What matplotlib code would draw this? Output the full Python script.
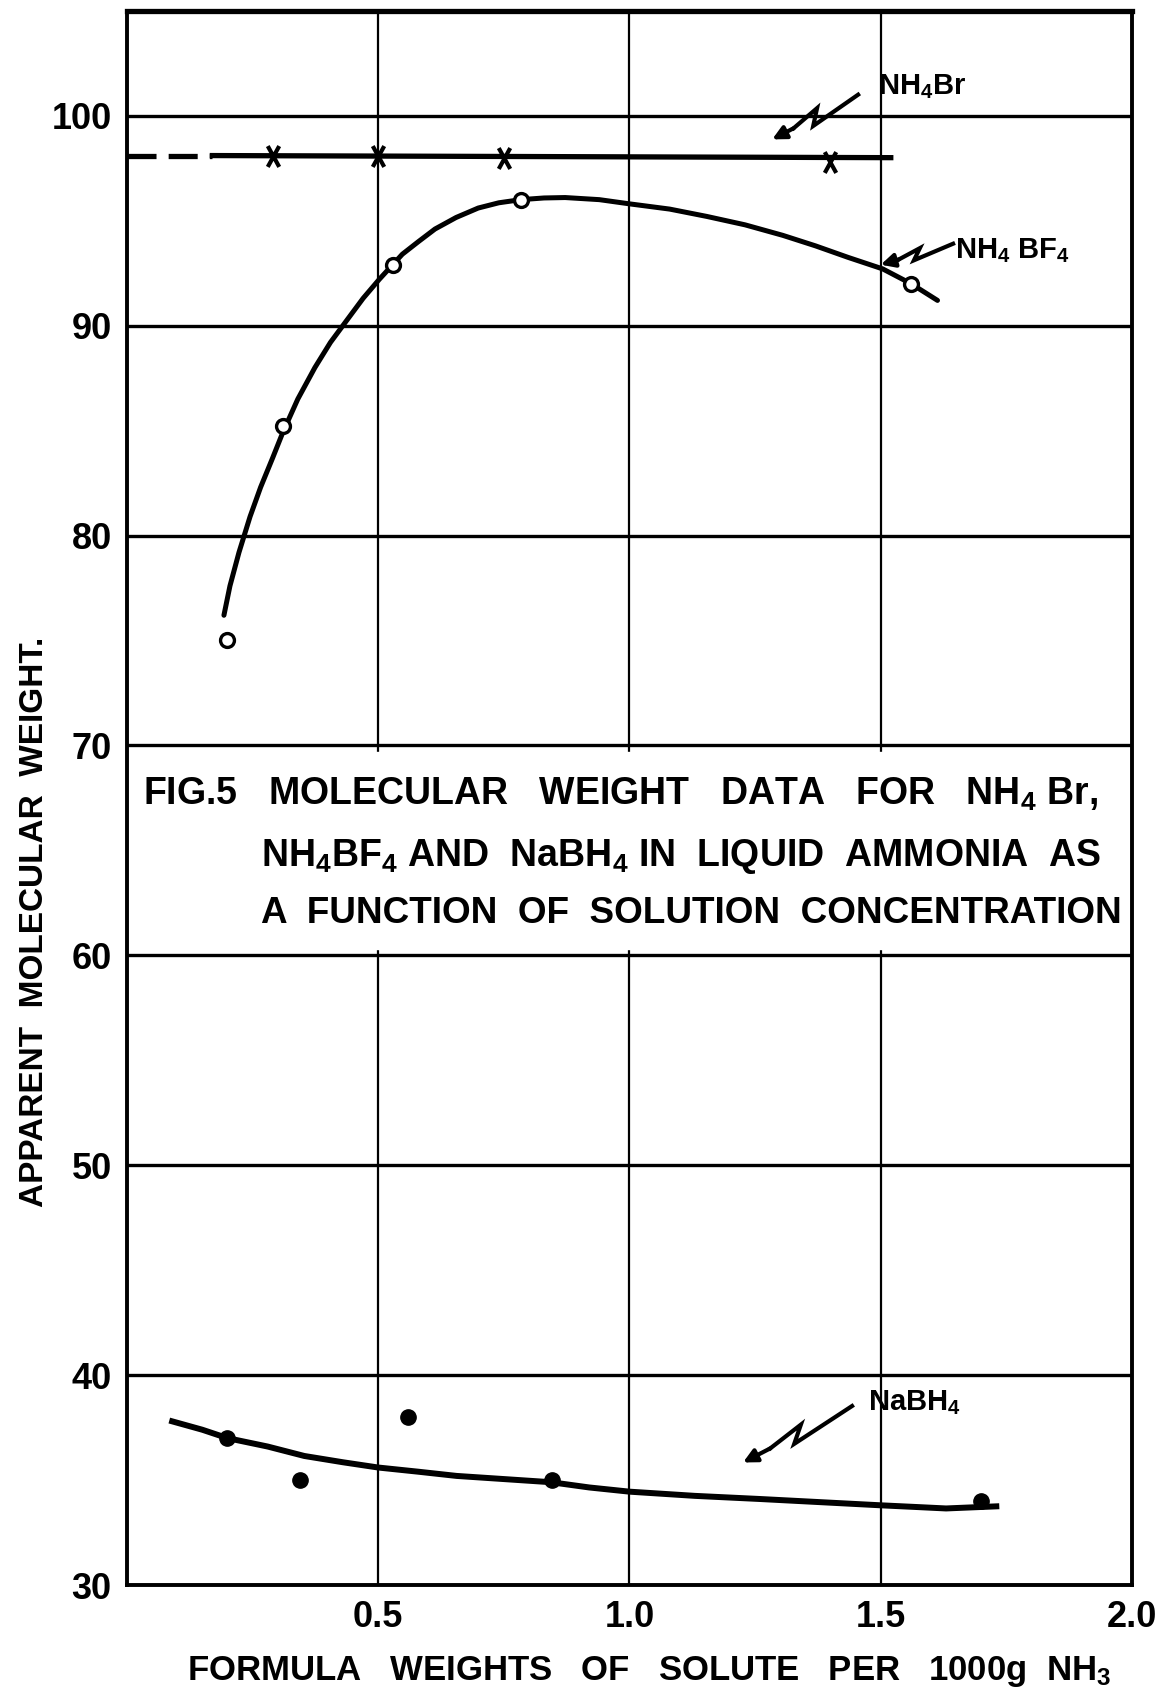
import numpy as np
import matplotlib
matplotlib.use("Agg")
import matplotlib.pyplot as plt
from matplotlib.path import Path

plt.rcParams['font.family'] = ['Liberation Sans', 'DejaVu Sans']
plt.rcParams['font.weight'] = 'bold'
plt.rcParams['axes.labelweight'] = 'bold'
plt.rcParams['mathtext.fontset'] = 'custom'
plt.rcParams['mathtext.rm'] = 'Liberation Sans:bold'
plt.rcParams['mathtext.default'] = 'regular'

# NH4Br (crosses) and its flat line
br_x = [0.29, 0.50, 0.75, 1.40]
br_y = [98.1, 98.1, 98.0, 97.8]
br_dash_x = [0.0, 0.17]
br_dash_y = [98.1, 98.1]
br_line_x = [0.17, 1.52]
br_line_y = [98.1, 98.0]

# NH4BF4 (open circles) and the hand-drawn curve
bf_x = [0.20, 0.31, 0.53, 0.785, 1.56]
bf_y = [75.0, 85.2, 92.9, 96.0, 92.0]
bf_curve_x = [0.193, 0.205, 0.223, 0.245, 0.266, 0.29, 0.31, 0.34, 0.374, 0.405,
              0.439, 0.47, 0.502, 0.548, 0.58, 0.613, 0.655, 0.699, 0.74, 0.784,
              0.83, 0.872, 0.94, 1.0, 1.08, 1.154, 1.23, 1.305, 1.37, 1.435,
              1.504, 1.56, 1.613]
bf_curve_y = [76.2, 77.6, 79.2, 80.9, 82.3, 83.7, 84.9, 86.5, 88.0, 89.2,
              90.3, 91.3, 92.2, 93.4, 94.0, 94.6, 95.15, 95.6, 95.85, 96.0,
              96.08, 96.1, 96.0, 95.8, 95.55, 95.2, 94.8, 94.3, 93.8, 93.25,
              92.7, 92.0, 91.2]

# NaBH4 (filled dots) and its curve
na_x = [0.20, 0.345, 0.56, 0.845, 1.70]
na_y = [37.0, 35.0, 38.0, 35.0, 34.0]
na_curve_x = [0.09, 0.15, 0.20, 0.28, 0.353, 0.43, 0.50, 0.58, 0.656, 0.75,
              0.844, 0.92, 1.0, 1.13, 1.26, 1.38, 1.50, 1.57, 1.63, 1.68, 1.73]
na_curve_y = [37.8, 37.4, 37.0, 36.6, 36.15, 35.85, 35.6, 35.4, 35.2, 35.05,
              34.9, 34.65, 34.45, 34.25, 34.1, 33.95, 33.8, 33.72, 33.65, 33.7, 33.75]

xticks = [0.5, 1.0, 1.5, 2.0]
xtick_labels = ['0.5', '1.0', '1.5', '2.0']
yticks = [30, 40, 50, 60, 70, 80, 90, 100]

caption = ['FIG.5   MOLECULAR   WEIGHT   DATA   FOR   NH$_4$ Br,',
           'NH$_4$BF$_4$ AND  NaBH$_4$ IN  LIQUID  AMMONIA  AS',
           'A  FUNCTION  OF  SOLUTION  CONCENTRATION']

fig = plt.figure(figsize=(11.7, 17.02), dpi=100)
ax = fig.add_axes([0.1085, 0.0687, 0.859, 0.925])
ax.set_xlim(0, 2.0)
ax.set_ylim(30, 105)

# grid drawn by hand so the caption box can sit over the verticals
for xv in xticks[:-1]:
    ax.axvline(xv, color='black', lw=1.6, zorder=1)
ax.axhspan(60.3, 69.7, color='white', zorder=2)
for yv in yticks[1:]:
    ax.axhline(yv, color='black', lw=2.4, zorder=3)

for side in ['left', 'right', 'bottom']:
    ax.spines[side].set_linewidth(2.8)
ax.spines['top'].set_linewidth(3.8)
for s in ax.spines.values():
    s.set_zorder(6)

ax.set_xticks(xticks)
ax.set_xticklabels(xtick_labels)
ax.set_yticks(yticks)
ax.tick_params(length=0, labelsize=26, pad=11)

# tall x marker like the hand-drawn crosses
cross = Path([(-0.55, -1), (0.55, 1), (-0.55, 1), (0.55, -1)],
             [Path.MOVETO, Path.LINETO, Path.MOVETO, Path.LINETO])

# NH4Br
ax.plot(br_dash_x, br_dash_y, color='black', lw=3.8, dashes=(5.5, 2.3), zorder=4)
ax.plot(br_line_x, br_line_y, color='black', lw=3.8, zorder=4)
ax.plot(br_x, br_y, marker=cross, ls='none', color='black', ms=15, mew=3, zorder=5)

# NH4BF4
ax.plot(bf_curve_x, bf_curve_y, color='black', lw=3.6, zorder=4,
        solid_capstyle='round')
ax.plot(bf_x, bf_y, 'o', mfc='white', mec='black', ms=10, mew=2.4, zorder=5)

# NaBH4
ax.plot(na_curve_x, na_curve_y, color='black', lw=4.3, zorder=4)
ax.plot(na_x, na_y, 'o', color='black', ms=11, zorder=5)


def bolt(x0, y0, x1, y1, kink=7):
    # zig-zag leader from label (x0,y0) to arrow tip (x1,y1), built in pixels
    p0 = ax.transData.transform((x0, y0))
    p1 = ax.transData.transform((x1, y1))
    d = p1 - p0
    u = d / np.hypot(*d)
    nrm = np.array([-u[1], u[0]])
    pts = np.array([p0,
                    p0 + 0.56 * d + kink * nrm,
                    p0 + 0.44 * d - kink * nrm,
                    p0 + 0.75 * d])
    pts = ax.transData.inverted().transform(pts)
    ax.plot(pts[:, 0], pts[:, 1], color='black', lw=3, zorder=5,
            solid_joinstyle='miter')
    ax.annotate('', xy=(x1, y1), xytext=tuple(pts[-1]),
                arrowprops=dict(arrowstyle='-|>', color='black', lw=3,
                                mutation_scale=20, shrinkA=0, shrinkB=0),
                zorder=5)


ax.text(1.494, 101.4, 'NH$_4$Br', fontsize=21, ha='left', va='center', zorder=6)
bolt(1.455, 101.0, 1.284, 98.87)
ax.text(1.648, 93.55, 'NH$_4$ BF$_4$', fontsize=21, ha='left', va='center', zorder=6)
bolt(1.644, 93.9, 1.50, 92.9, kink=5)
ax.text(1.475, 38.7, 'NaBH$_4$', fontsize=21, ha='left', va='center', zorder=6)
bolt(1.443, 38.53, 1.226, 35.84)

# caption inside the plot
ax.text(0.032, 67.19, caption[0], fontsize=27, ha='left', va='baseline', zorder=6)
ax.text(0.266, 64.25, caption[1], fontsize=27, ha='left', va='baseline', zorder=6)
ax.text(0.266, 61.52, caption[2], fontsize=26.6, ha='left', va='baseline', zorder=6)

ax.set_xlabel('FORMULA   WEIGHTS   OF   SOLUTE   PER   1000g  NH$_3$', fontsize=25)
ax.xaxis.label.set_va('center')
ax.xaxis.set_label_coords(0.52, -0.0546)
ax.set_ylabel('APPARENT  MOLECULAR  WEIGHT.', fontsize=24)
ax.yaxis.label.set_va('center')
ax.yaxis.set_label_coords(-0.0915, 0.421)

fig.savefig('out.png', dpi=100)
